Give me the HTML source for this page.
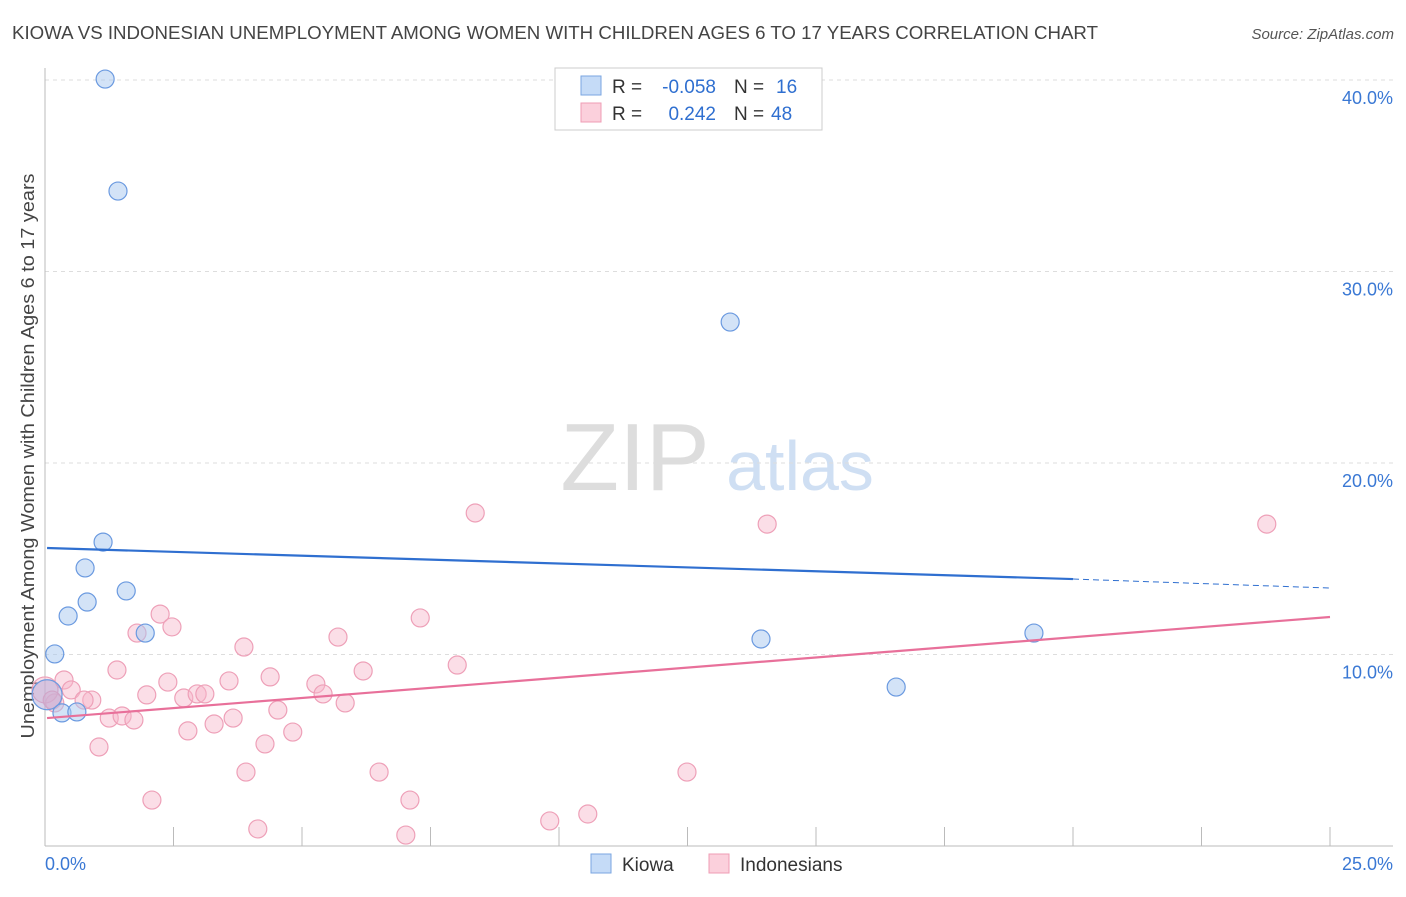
<!DOCTYPE html>
<html><head><meta charset="utf-8"><style>
body{margin:0;background:#fff;font-family:"Liberation Sans",sans-serif;}
svg text{font-family:"Liberation Sans",sans-serif;}
</style></head><body>
<svg id="c" width="1406" height="892">
<text x="12" y="39" font-size="18" fill="#444" textLength="1086" lengthAdjust="spacingAndGlyphs">KIOWA VS INDONESIAN UNEMPLOYMENT AMONG WOMEN WITH CHILDREN AGES 6 TO 17 YEARS CORRELATION CHART</text>
<text x="1394" y="39" font-size="15" fill="#555" text-anchor="end" font-style="italic">Source: ZipAtlas.com</text>
<text x="635" y="490" font-size="96" fill="#ddd" text-anchor="middle" font-family="Liberation Serif">ZIP</text>
<text x="800" y="490" font-size="70" fill="#cfdff3" text-anchor="middle">atlas</text>
<text transform="translate(34,456) rotate(-90)" font-size="18" fill="#444" text-anchor="middle" textLength="565" lengthAdjust="spacingAndGlyphs">Unemployment Among Women with Children Ages 6 to 17 years</text>
<g id="grid"></g><g id="marks"></g>
<g>
<rect x="555" y="68" width="267" height="62" fill="#fff" stroke="#ccc"/>
<rect x="581" y="76" width="20" height="19" fill="#c5dbf7" stroke="#7aa6e0"/>
<rect x="581" y="103" width="20" height="19" fill="#fbd0dc" stroke="#ef9db5"/>
<g font-size="19" fill="#333">
<text x="612" y="93">R =</text><text x="716" y="93" text-anchor="end" fill="#2f6fd0">-0.058</text>
<text x="734" y="93">N =</text><text x="776" y="93" fill="#2f6fd0">16</text></g>
<g font-size="19" fill="#333">
<text x="612" y="120">R =</text><text x="716" y="120" text-anchor="end" fill="#2f6fd0">0.242</text>
<text x="734" y="120">N =</text><text x="771" y="120" fill="#2f6fd0">48</text></g>
</g>
<rect x="591" y="854" width="20" height="19" fill="#c5dbf7" stroke="#7aa6e0"/>
<text x="622" y="871" font-size="19" fill="#333">Kiowa</text>
<rect x="709" y="854" width="20" height="19" fill="#fbd0dc" stroke="#ef9db5"/>
<text x="740" y="871" font-size="19" fill="#333">Indonesians</text>
</svg>
<script>
const yTicks=[10,20,30,40];
const yTickLabels=["10.0%","20.0%","30.0%","40.0%"];
const xTickLabels=["0.0%","25.0%"];
const kiowaX=[1.17,1.42,13.33,1.13,0.78,1.58,0.82,0.45,1.95,13.93,19.24,0.19,16.56,0.33,0.62,0.04];
const kiowaY=[40.05,34.2,27.36,15.87,14.52,13.32,12.74,12.01,11.12,10.81,11.12,10.03,8.30,6.95,7.00,7.9];
const indoX=[8.37,14.05,23.77,2.24,2.47,7.30,1.79,5.70,3.87,8.02,1.40,6.19,4.38,2.39,3.58,5.27,0.37,0.51,1.98,2.70,2.96,3.11,5.41,5.84,0.91,0.76,0.19,4.53,1.25,1.50,1.73,3.66,3.29,2.78,4.82,4.28,1.05,3.91,6.50,12.49,2.08,7.10,10.56,9.82,4.14,7.02,0.0,0.14];
const indoY=[17.39,16.81,16.81,12.11,11.44,11.91,11.12,10.91,10.39,9.45,9.19,9.14,8.83,8.56,8.62,8.46,8.67,8.15,7.89,7.73,7.94,7.94,7.94,7.47,7.62,7.62,7.47,7.10,6.68,6.79,6.58,6.68,6.37,6.01,5.95,5.33,5.17,3.86,3.86,3.86,2.40,2.40,1.67,1.31,0.89,0.57,8.15,7.62];
const kiowaLine=[15.56,13.94,13.47]; // y at x=0, 20, 25
const indoLine=[6.68,11.96]; // y at x=0, 25
const X=v=>45+v*51.4, Y=v=>846-v*19.15;
const NS="http://www.w3.org/2000/svg";
function mk(t,a,p){const e=document.createElementNS(NS,t);for(const k in a)e.setAttribute(k,a[k]);p.appendChild(e);return e;}
const g=document.getElementById('grid'), m=document.getElementById('marks');
yTicks.forEach((t,i)=>{
 const l=mk('line',{x1:45,x2:1393,y1:Y(t),y2:Y(t),stroke:'#ddd','stroke-dasharray':'4,4'},g);
 
 
 const tx=mk('text',{x:1393,y:Y(t)+24,'font-size':18,fill:'#3a78d4','text-anchor':'end'},g);
 tx.textContent=yTickLabels[i];
 
 
});
const ax=mk('line',{x1:45,x2:45,y1:68,y2:846,stroke:'#bbb'},g);


const bx=mk('line',{x1:45,x2:1393,y1:846,y2:846,stroke:'#bbb'},g);


for(let i=1;i<=10;i++){const t=mk('line',{x1:X(i*2.5),x2:X(i*2.5),y1:827,y2:846,stroke:'#bbb'},g);
 
 }
[[0,'start',45],[25,'end',1393]].forEach((d,i)=>{const t=mk('text',{x:d[2],y:870,'font-size':18,fill:'#3a78d4','text-anchor':d[1]},g);t.textContent=xTickLabels[i];
 
 });
indoX.forEach((x,i)=>{const c=mk('circle',{cx:X(x),cy:Y(indoY[i]),r:i==46?13:9,fill:'rgba(246,182,202,0.45)',stroke:'#eea0b8','stroke-width':1.2},m);
 
 });
kiowaX.forEach((x,i)=>{const c=mk('circle',{cx:X(x),cy:Y(kiowaY[i]),r:i==15?15:9,fill:i==15?'rgba(180,170,215,0.5)':'rgba(168,200,240,0.5)',stroke:'#6b9ae0','stroke-width':1.2},m);
 
 });
const kl=mk('line',{x1:X(0.04),y1:Y(kiowaLine[0]),x2:X(20),y2:Y(kiowaLine[1]),stroke:'#2f6fd0','stroke-width':2.2},m);


const kd=mk('line',{x1:X(20),y1:Y(kiowaLine[1]),x2:X(25),y2:Y(kiowaLine[2]),stroke:'#2f6fd0','stroke-width':1,'stroke-dasharray':'6,4'},m);


const il=mk('line',{x1:X(0.04),y1:Y(indoLine[0]),x2:X(25),y2:Y(indoLine[1]),stroke:'#e8709a','stroke-width':2.2},m);


</script>
</body></html>
